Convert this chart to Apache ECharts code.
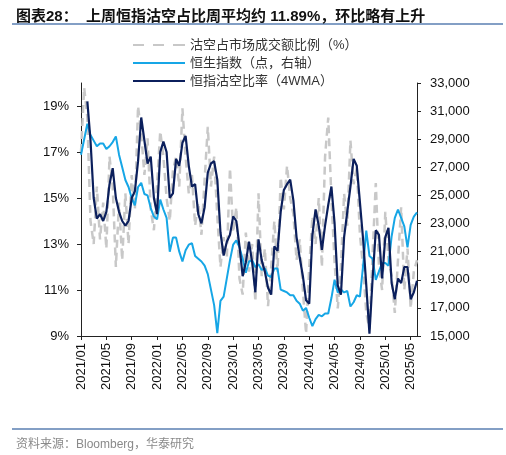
<!DOCTYPE html>
<html>
<head>
<meta charset="utf-8">
<script src="https://cdn.jsdelivr.net/npm/echarts@6/dist/echarts.min.js"></script>
<style>
  html, body { margin: 0; padding: 0; background: #fff; }
  #chart { width: 506px; height: 455px; }
</style>
</head>
<body>
<div id="chart"></div>
<script>
// semi-monthly readings, first point = 2021/01 (x = months since 2021/01)
var shortRatio = [17.0, 19.8, 18.5, 14.0, 13.0, 15.5, 13.2, 14.8, 12.8, 16.8,
    15.5, 12.0, 14.8, 12.3, 15.2, 13.0, 16.0, 14.5, 19.0, 17.8,
    16.0, 17.6, 14.5, 13.6, 15.6, 17.9, 16.8, 15.0, 14.0, 16.2,
    16.8, 15.5, 18.9, 16.8, 15.2, 16.0, 13.8, 14.8, 13.4, 15.8,
    18.1, 15.5, 16.8, 14.2, 12.0, 13.3, 12.4, 16.3, 13.5, 14.6,
    11.5, 10.8, 13.5, 11.8, 13.0, 10.5, 15.2, 11.6, 12.8, 10.3,
    12.0, 14.0, 11.8, 15.9, 14.5, 16.4, 15.0, 14.3, 12.3, 13.2,
    11.0, 9.1, 12.0, 14.2, 13.0, 15.0, 12.0, 16.8, 18.5, 15.0,
    12.2, 10.2, 12.0, 15.2, 13.8, 17.5, 15.6, 16.3, 13.4, 12.0,
    10.0, 9.3, 12.6, 15.65, 12.0, 11.0, 14.4, 12.3, 11.6, 10.0,
    12.3, 14.6, 11.0, 12.8, 10.2, 11.8, 12.3];

var hsi = [27900, 29000, 30100, 29300, 28900, 28500, 28700, 28700, 28300, 28500,
    28800, 29200, 27900, 27000, 26100, 25600, 24800, 24300, 25600, 25900,
    25100, 25000, 24100, 23500, 23300, 24700, 24000, 23400, 21000, 22000,
    22000, 21000, 20300, 21100, 21500, 21600, 20700, 20500, 20300, 20000,
    19400, 18300, 17200, 15200, 17500, 17800, 19100, 20400, 21500, 21800,
    21300, 20500, 19500, 20300, 20400, 19900, 20100, 19700, 19800, 19300,
    19200, 19800, 19800, 18300, 18200, 18100, 17900, 17900, 17500, 17300,
    16800, 17000, 16300, 15700, 16200, 16500, 16400, 16600, 16600, 17700,
    19000, 18100, 18300, 18100, 18200, 17100, 17400, 17900, 17800, 20000,
    22500, 20700, 20500, 19000, 19600, 20200, 20200, 20000, 22100, 23400,
    24000, 23400, 22800, 21300, 22900, 23500, 23800];

var ratio4wma = [null, null, 19.2, 17.5, 15.0, 14.1, 14.3, 14.0, 14.4, 15.6,
    16.3, 15.0, 14.4, 14.0, 13.8, 14.0, 15.0, 15.3, 16.6, 18.5,
    17.5, 16.5, 16.8, 15.0, 14.3, 17.0, 17.45, 17.0, 15.0, 15.2,
    16.7, 16.4, 17.4, 17.7, 16.4, 15.5, 15.6, 14.3, 13.9, 14.6,
    16.1, 16.5, 16.6, 15.8, 13.5, 12.5, 13.1, 13.4, 14.2, 14.0,
    12.9, 11.6, 12.2, 13.1, 12.2, 10.9, 13.2, 12.3, 11.8, 11.1,
    10.8, 12.9, 12.7, 14.4, 15.35, 15.6, 15.8, 14.9, 13.3, 12.4,
    11.6, 10.55, 10.4, 13.4, 14.5, 13.8, 12.75, 13.8, 14.7, 15.5,
    13.9, 11.2, 10.8, 13.3, 14.4, 15.5, 16.7, 16.4, 14.8, 13.2,
    11.2, 9.1, 11.5, 13.6, 13.4, 11.5, 13.3, 13.7, 11.3, 10.6,
    11.5, 11.3, 12.0, 12.0, 10.6, 10.9, 11.4];

var monthTicks = [0, 4, 8, 12, 16, 20, 24, 28, 32, 36, 40, 44, 48, 52];
var pctTicks = [9, 11, 13, 15, 17, 19];

var seriesNames = ['沽空占市场成交额比例（%）', '恒生指数（点，右轴）', '恒指沽空比率（4WMA）'];

function withX(arr) {
    return arr.map(function (v, i) { return [i * 0.5, v]; });
}

function monthLabel(v) {
    var y = 2021 + Math.floor(v / 12);
    var m = (v % 12) + 1;
    return y + '/' + (m < 10 ? '0' + m : m);
}

var numFont = 'Liberation Sans, Arial, sans-serif';
var cjkFont = 'Liberation Sans, Noto Sans CJK SC, sans-serif';

// legend icons: 52x14 box, tiny corner marks keep the box size
var boxCorners = ' M0,0H0.01V0.01H0Z M51.99,13.99H52V14H51.99Z';
var solidIcon = 'path://M0,6H52V8H0Z' + boxCorners;
var dashIcon = 'path://M0,6H11V8H0Z M20,6H31V8H20Z M40,6H52V8H40Z' + boxCorners;

var myChart = echarts.init(document.getElementById('chart'), null, { renderer: 'canvas' });

var option = {
    animation: false,
    title: [
        {
            text: '图表28：  上周恒指沽空占比周平均约 11.89%，环比略有上升',
            left: 11,
            top: 4,
            textStyle: { fontFamily: cjkFont, fontSize: 15, fontWeight: 'bold', color: '#111' }
        },
        {
            text: '资料来源：Bloomberg，华泰研究',
            left: 11,
            top: 434,
            textStyle: { fontFamily: cjkFont, fontSize: 12, fontWeight: 'normal', color: '#8a8a8a' }
        }
    ],
    graphic: [
        { type: 'line', shape: { x1: 12, y1: 24, x2: 503, y2: 24 }, style: { stroke: '#5a7fb2', lineWidth: 1.3 } },
        { type: 'line', shape: { x1: 12, y1: 429, x2: 503, y2: 429 }, style: { stroke: '#5a7fb2', lineWidth: 1.3 } }
    ],
    legend: {
        orient: 'vertical',
        left: 133,
        top: 38,
        padding: 0,
        itemWidth: 52,
        itemHeight: 14,
        itemGap: 4,
        symbolKeepAspect: false,
        textStyle: { fontFamily: cjkFont, fontSize: 13, color: '#333' },
        data: [
            { name: seriesNames[0], icon: dashIcon },
            { name: seriesNames[1], icon: solidIcon },
            { name: seriesNames[2], icon: solidIcon }
        ]
    },
    grid: {
        left: 81,
        right: 89,
        top: 83,
        bottom: 119
    },
    xAxis: {
        type: 'value',
        min: 0,
        max: 53,
        splitLine: { show: false },
        axisLine: { show: true, lineStyle: { color: '#222', width: 1 } },
        axisTick: { show: true, length: 4, lineStyle: { color: '#222' }, customValues: monthTicks },
        axisLabel: {
            rotate: 90,
            margin: 7,
            color: '#111',
            fontFamily: numFont,
            fontSize: 13,
            customValues: monthTicks,
            formatter: monthLabel
        }
    },
    yAxis: [
        {
            type: 'value',
            min: 9,
            max: 20,
            interval: 1,
            position: 'left',
            splitLine: { show: false },
            axisLine: { show: true, lineStyle: { color: '#222' } },
            axisTick: { show: true, length: 4, lineStyle: { color: '#222' }, customValues: pctTicks },
            axisLabel: {
                margin: 12,
                color: '#111',
                fontFamily: numFont,
                fontSize: 13,
                customValues: pctTicks,
                formatter: '{value}%'
            }
        },
        {
            type: 'value',
            min: 15000,
            max: 33000,
            interval: 2000,
            position: 'right',
            splitLine: { show: false },
            axisLine: { show: true, lineStyle: { color: '#222' } },
            axisTick: { show: true, length: 4, lineStyle: { color: '#222' } },
            axisLabel: {
                margin: 13,
                color: '#111',
                fontFamily: numFont,
                fontSize: 13,
                formatter: function (v) { return v.toLocaleString('en-US'); }
            }
        }
    ],
    series: [
        {
            name: seriesNames[0],
            type: 'line',
            yAxisIndex: 0,
            symbol: 'none',
            lineStyle: { color: '#c8c8c8', width: 2.5, type: [8, 5] },
            itemStyle: { color: '#c8c8c8' },
            z: 1,
            data: withX(shortRatio)
        },
        {
            name: seriesNames[1],
            type: 'line',
            yAxisIndex: 1,
            symbol: 'none',
            lineStyle: { color: '#16a6e6', width: 2 },
            itemStyle: { color: '#16a6e6' },
            z: 2,
            data: withX(hsi)
        },
        {
            name: seriesNames[2],
            type: 'line',
            yAxisIndex: 0,
            symbol: 'none',
            lineStyle: { color: '#0b1f5c', width: 2.2 },
            itemStyle: { color: '#0b1f5c' },
            z: 3,
            data: withX(ratio4wma)
        }
    ]
};

myChart.setOption(option);
</script>
</body>
</html>
